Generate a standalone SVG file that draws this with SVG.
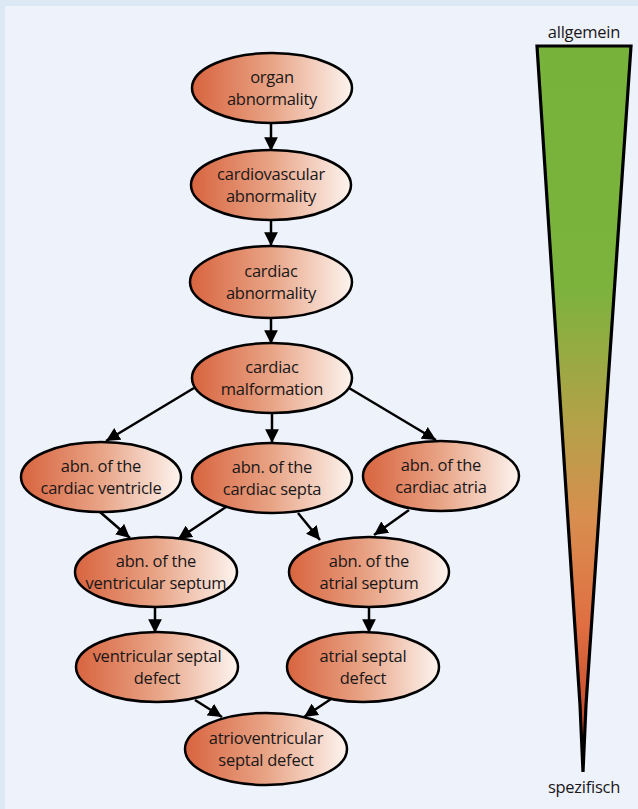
<svg xmlns="http://www.w3.org/2000/svg" width="638" height="809" viewBox="0 0 638 809">
<defs>
<linearGradient id="eg" x1="0" y1="0" x2="1" y2="0">
<stop offset="0" stop-color="#d8643f"/>
<stop offset="0.5" stop-color="#e8a486"/>
<stop offset="1" stop-color="#fdf4ef"/>
</linearGradient>
<linearGradient id="tg" gradientUnits="userSpaceOnUse" x1="0" y1="46" x2="0" y2="772">
<stop offset="0" stop-color="#77b33b"/>
<stop offset="0.33" stop-color="#7bb33d"/>
<stop offset="0.52" stop-color="#b4a148"/>
<stop offset="0.65" stop-color="#d88e4f"/>
<stop offset="0.8" stop-color="#e06e42"/>
<stop offset="1" stop-color="#b83a1e"/>
</linearGradient>
<marker id="ah" viewBox="0 0 10 10" refX="10" refY="5" markerWidth="5.5" markerHeight="5.5" markerUnits="strokeWidth" orient="auto">
<path d="M0,0 L10,5 L0,10 z" fill="#000"/>
</marker>
<style>
.n ellipse{fill:url(#eg);stroke:#000;stroke-width:2.5}
.n text,.lbl{font-family:"Open Sans","Noto Sans",sans-serif;font-size:16.5px;letter-spacing:-0.25px;fill:#1a1718;text-anchor:middle}
#edges line{stroke:#000;stroke-width:2.5;marker-end:url(#ah)}
</style>
</defs>
<rect width="638" height="809" fill="#dce8f3"/>
<rect x="5" y="6" width="633" height="803" fill="#edf2fb"/>
<g id="scale">
<polygon points="537,46 631,46 586,705 583,772 580,705" fill="url(#tg)" stroke="#000" stroke-width="3.2" stroke-linejoin="miter" stroke-miterlimit="4"/>
<text class="lbl" x="584" y="38">allgemein</text>
<text class="lbl" x="584" y="793">spezifisch</text>
</g>
<g id="edges">
<line x1="271" y1="123" x2="271" y2="151"/>
<line x1="271" y1="220" x2="271" y2="246"/>
<line x1="271" y1="318" x2="271" y2="344"/>
<line x1="194" y1="388" x2="106" y2="441"/>
<line x1="272" y1="413" x2="272" y2="443"/>
<line x1="349" y1="388" x2="436" y2="440"/>
<line x1="100" y1="512" x2="130" y2="538"/>
<line x1="226" y1="507" x2="178" y2="539"/>
<line x1="298" y1="513" x2="320" y2="540"/>
<line x1="409" y1="510" x2="374" y2="535"/>
<line x1="155" y1="606" x2="155" y2="633"/>
<line x1="369" y1="607" x2="369" y2="633"/>
<line x1="195" y1="700" x2="222" y2="717"/>
<line x1="331" y1="699" x2="304" y2="717"/>
</g>
<g id="n1" class="n"><ellipse cx="272" cy="88" rx="80" ry="35"/><text x="272" y="83">organ</text><text x="272" y="105">abnormality</text></g>
<g id="n2" class="n"><ellipse cx="271" cy="185" rx="80" ry="35"/><text x="271" y="180">cardiovascular</text><text x="271" y="202">abnormality</text></g>
<g id="n3" class="n"><ellipse cx="271" cy="282" rx="81" ry="36"/><text x="271" y="277">cardiac</text><text x="271" y="299">abnormality</text></g>
<g id="n4" class="n"><ellipse cx="272" cy="378" rx="80" ry="35"/><text x="272" y="373">cardiac</text><text x="272" y="395">malformation</text></g>
<g id="n5" class="n"><ellipse cx="101" cy="477" rx="80" ry="35"/><text x="101" y="472">abn. of the</text><text x="101" y="494">cardiac ventricle</text></g>
<g id="n6" class="n"><ellipse cx="272" cy="478" rx="80" ry="35"/><text x="272" y="473">abn. of the</text><text x="272" y="495">cardiac septa</text></g>
<g id="n7" class="n"><ellipse cx="441" cy="476" rx="78" ry="35"/><text x="441" y="471">abn. of the</text><text x="441" y="493">cardiac atria</text></g>
<g id="n8" class="n"><ellipse cx="156" cy="572" rx="81" ry="35"/><text x="156" y="567">abn. of the</text><text x="156" y="589">ventricular septum</text></g>
<g id="n9" class="n"><ellipse cx="369" cy="572" rx="80" ry="35"/><text x="369" y="567">abn. of the</text><text x="369" y="589">atrial septum</text></g>
<g id="n10" class="n"><ellipse cx="157" cy="667" rx="81" ry="35"/><text x="157" y="662">ventricular septal</text><text x="157" y="684">defect</text></g>
<g id="n11" class="n"><ellipse cx="363" cy="667" rx="76" ry="35"/><text x="363" y="662">atrial septal</text><text x="363" y="684">defect</text></g>
<g id="n12" class="n"><ellipse cx="266" cy="749" rx="81" ry="36"/><text x="266" y="744">atrioventricular</text><text x="266" y="766">septal defect</text></g>
</svg>
